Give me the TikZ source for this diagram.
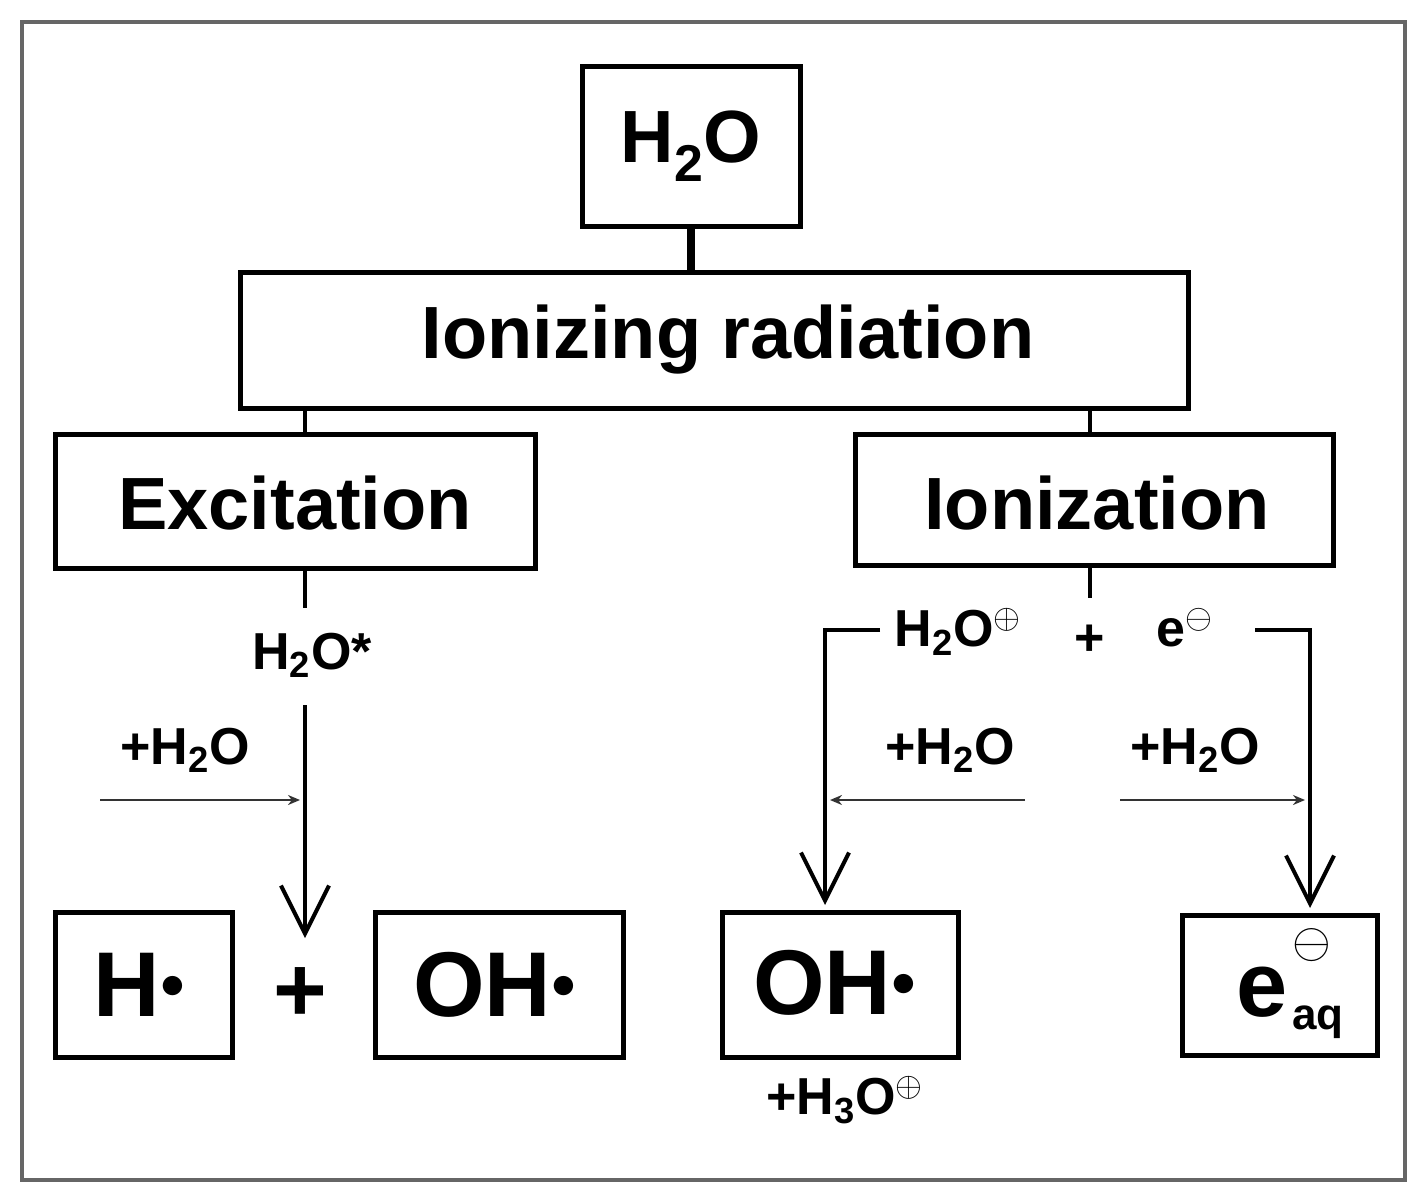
\documentclass[tikz,border=0pt]{standalone}
\usepackage{fontspec}
\setmainfont{Liberation Sans}
\usetikzlibrary{arrows.meta}
\newcommand{\dn}[1]{\textsubscript{#1}}
\newcommand{\uq}[1]{\textsuperscript{#1}}
\begin{document}
\begin{tikzpicture}[x=0.5pt,y=-0.5pt,
  box/.style={draw,line width=2.5pt,rectangle},
  ln/.style={line width=2.2pt},
  big/.style={arrows={-Straight Barb[length=24pt,width=24pt,line width=2pt]},line width=2.2pt},
  thin/.style={arrows={-Stealth[length=6pt,width=5pt]},line width=1pt,draw=black!80},
  lab/.style={font=\fontsize{26}{28}\selectfont\bfseries},
  mid/.style={font=\fontsize{37}{40}\selectfont\bfseries},
  huge/.style={font=\fontsize{46}{48}\selectfont\bfseries}]
\useasboundingbox (0,0) rectangle (1417,1199);
\draw[line width=2pt,black!60] (22,22) rectangle (1405,1180);
\draw[box] (582,66) rectangle (800,226); \node[mid] (h2o) at (691,146) {H\dn{2}O};
\coordinate (h2ob) at (691,226);
\draw[box] (240,272) rectangle (1188,408); \node[mid] (ir) at (728,340) {Ionizing radiation};
\coordinate (irt) at (691,272);
\draw[line width=4pt] (h2ob) -- (irt);
\draw[box] (55,434) rectangle (535,568); \node[mid] (ex) at (295,503) {Excitation};
\draw[box] (855,434) rectangle (1333,565); \node[mid] (io) at (1097,503) {Ionization};
\coordinate (a1) at (305,408); \coordinate (a2) at (305,434);
\coordinate (b1) at (1090,408); \coordinate (b2) at (1090,434);
\draw[ln] (a1) -- (a2); \draw[ln] (b1) -- (b2);
% excitation branch
\coordinate (e1) at (305,568); \coordinate (e2) at (305,608);
\draw[ln] (e1) -- (e2);
\node[lab] (hs) at (312,655) {H\dn{2}O*};
\coordinate (e3) at (305,705); \coordinate (e4) at (305,938);
\draw[big] (e3) -- (e4);
\node[lab] (w1) at (185,750) {+H\dn{2}O};
\coordinate (s1) at (100,800); \coordinate (s2) at (300,800);
\draw[thin] (s1) -- (s2);
\draw[box] (55,912) rectangle (232,1057); \node[huge] (h) at (140,985) {H\uq{$\bullet$}};
\node[huge] (pl) at (300,995) {+};
\draw[box] (375,912) rectangle (623,1057); \node[huge] (oh1) at (495,985) {OH\uq{$\bullet$}};
% ionization branch
\coordinate (i1) at (1090,565); \coordinate (i2) at (1090,598);
\draw[ln] (i1) -- (i2);
\node[lab] (hp) at (958,632) {H\dn{2}O\uq{$\oplus$}};
\node[lab] (pl2) at (1090,640) {+};
\node[lab] (em) at (1185,628) {e\uq{$\ominus$}};
\coordinate (l1) at (880,630); \coordinate (l2) at (825,630); \coordinate (l3) at (825,905);
\draw[big] (l1) -- (l2) -- (l3);
\coordinate (r1) at (1255,630); \coordinate (r2) at (1310,630); \coordinate (r3) at (1310,908);
\draw[big] (r1) -- (r2) -- (r3);
\node[lab] (w2) at (950,750) {+H\dn{2}O};
\coordinate (t1) at (1025,800); \coordinate (t2) at (830,800);
\draw[thin] (t1) -- (t2);
\node[lab] (w3) at (1195,750) {+H\dn{2}O};
\coordinate (u1) at (1120,800); \coordinate (u2) at (1305,800);
\draw[thin] (u1) -- (u2);
\draw[box] (722,912) rectangle (958,1057); \node[huge] (oh2) at (835,983) {OH\uq{$\bullet$}};
\node[lab] (h3o) at (845,1100) {+H\dn{3}O\uq{$\oplus$}};
\draw[box] (1182,915) rectangle (1377,1055); \node[huge] (eaq) at (1262,992) {e};
\node[font=\fontsize{22}{24}\selectfont\bfseries] (aq) at (1318,1022) {aq};
\node[font=\fontsize{26}{28}\selectfont] (mn) at (1312,945) {$\ominus$};
\end{tikzpicture}
\end{document}
